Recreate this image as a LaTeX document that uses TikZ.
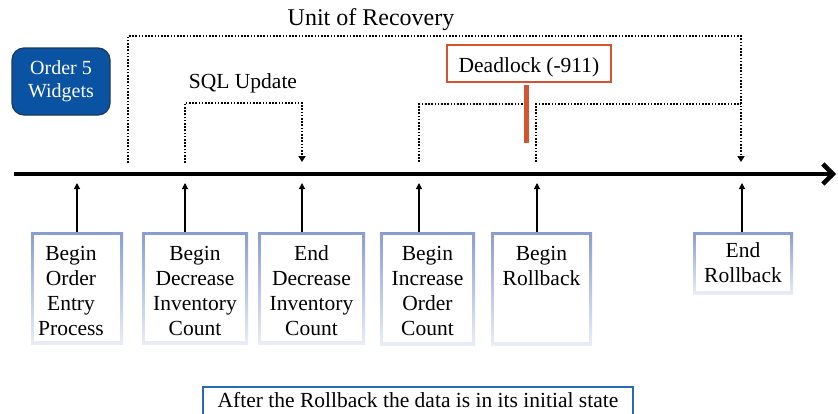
\documentclass[tikz,border=0pt]{standalone}
\usepackage{fontspec}
\setmainfont{Liberation Serif}
\usetikzlibrary{arrows.meta}
\definecolor{orderfill}{HTML}{0A53A3}
\definecolor{orderedge}{HTML}{1E3858}
\definecolor{alertred}{HTML}{D25430}
\definecolor{noteblue}{HTML}{2A69B3}
\definecolor{boxtop}{HTML}{8A9DCF}
\definecolor{boxbot}{HTML}{EAEDF7}
\begin{document}
\begin{tikzpicture}[x=1pt,y=-1pt,
  txt/.style={font=\fontsize{21.5pt}{25pt}\selectfont, inner sep=0pt, align=center},
  evbox/.style={anchor=north, inner sep=0pt, top color=boxtop, bottom color=boxbot,
    path picture={\fill[white]
      ([shift={(3pt,3pt)}]path picture bounding box.south west) rectangle
      ([shift={(-3pt,-3pt)}]path picture bounding box.north east);}},
  evlabel/.style={txt, anchor=base},
  timeline/.style={line width=4.5pt, -{Straight Barb[length=10pt,width=20pt]}},
  uparrow/.style={line width=1.1pt, -{Triangle[length=6pt,width=6pt]}},
  dots/.style={line width=1.8pt, dash pattern=on 1.6pt off 1.6pt},
  dotarrow/.style={dots, -{Triangle[length=6pt,width=7pt]}},
]
\useasboundingbox (0,0) rectangle (838,413);
\clip (0,0) rectangle (838,413);
\fill[white] (0,0) rectangle (838,413);

% time axis
\coordinate (tl0) at (14,174);
\coordinate (tl1) at (836,174);
\draw[timeline] (tl0) -- (tl1);

% event boxes below the axis
\node[evbox, minimum width=92pt,  minimum height=112pt] (b1) at (77,232) {};
\node[evbox, minimum width=106pt, minimum height=112pt] (b2) at (195,232) {};
\node[evbox, minimum width=107pt, minimum height=112pt] (b3) at (311.5,232) {};
\node[evbox, minimum width=95pt,  minimum height=113pt] (b4) at (427.5,232) {};
\node[evbox, minimum width=101pt, minimum height=113pt] (b5) at (541.5,232) {};
\node[evbox, minimum width=100pt, minimum height=62pt]  (b6) at (743,232) {};

% labels, positioned by the baseline of their last line
\node[evlabel] (t1) at (71,335) {Begin\\Order\\Entry\\Process};
\node[evlabel] (t2) at (195,335) {Begin\\Decrease\\Inventory\\Count};
\node[evlabel] (t3) at (311.5,335) {End\\Decrease\\Inventory\\Count};
\node[evlabel] (t4) at (427.5,335) {Begin\\Increase\\Order\\Count};
\node[evlabel] (t5) at (541.5,285) {Begin\\Rollback};
\node[evlabel] (t6) at (743,282) {End\\Rollback};

% arrows from the events up to the axis
\coordinate (p1) at (77,183);
\coordinate (p2) at (185,183);
\coordinate (p3) at (302,183);
\coordinate (p4) at (419,183);
\coordinate (p5) at (537,183);
\coordinate (p6) at (742,183);
\draw[uparrow] (b1.north -| p1) -- (p1);
\draw[uparrow] (b2.north -| p2) -- (p2);
\draw[uparrow] (b3.north -| p3) -- (p3);
\draw[uparrow] (b4.north -| p4) -- (p4);
\draw[uparrow] (b5.north -| p5) -- (p5);
\draw[uparrow] (b6.north -| p6) -- (p6);

% unit of recovery bracket
\coordinate (u0) at (128,163);
\coordinate (u1) at (741,36);
\coordinate (u2) at (741,162);
\draw[dotarrow] (u0) |- (u1) -- (u2);
\node[evlabel, font=\fontsize{24pt}{28pt}\selectfont] (uor) at (371,25) {Unit of Recovery};

% SQL update bracket
\coordinate (s0) at (185,163);
\coordinate (s1) at (302,103);
\coordinate (s2) at (302,162);
\draw[dotarrow] (s0) |- (s1) -- (s2);
\node[evlabel] (sql) at (243,88) {SQL Update};

% brackets interrupted by the deadlock
\coordinate (a0) at (419,162);
\coordinate (a1) at (524,104);
\draw[dots] (a0) |- (a1);
\coordinate (c0) at (536,162);
\coordinate (c1) at (741,104);
\draw[dots] (c0) |- (c1);

% deadlock marker
\node[txt, draw=alertred, line width=1.5pt, fill=white, minimum width=164pt, minimum height=37pt,
      text height=19pt, text depth=2pt] (dl) at (529,63.5) {Deadlock (-911)};
\coordinate (r0) at (526,85);
\coordinate (r1) at (526,143);
\draw[alertred, line width=5pt] (r0) -- (r1);

% order box
\node[txt, font=\fontsize{20pt}{23pt}\selectfont, text=white, fill=orderfill, draw=orderedge,
      line width=1.2pt, rounded corners=12pt, minimum width=98pt, minimum height=67pt]
      (order) at (61,81.5) {Order 5\\Widgets};

% closing note
\node[txt, draw=noteblue, line width=1.5pt, minimum width=430pt, minimum height=36pt,
      text height=12pt, text depth=7pt] (note) at (418,405) {After the Rollback the data is in its initial state};
\end{tikzpicture}
\end{document}
